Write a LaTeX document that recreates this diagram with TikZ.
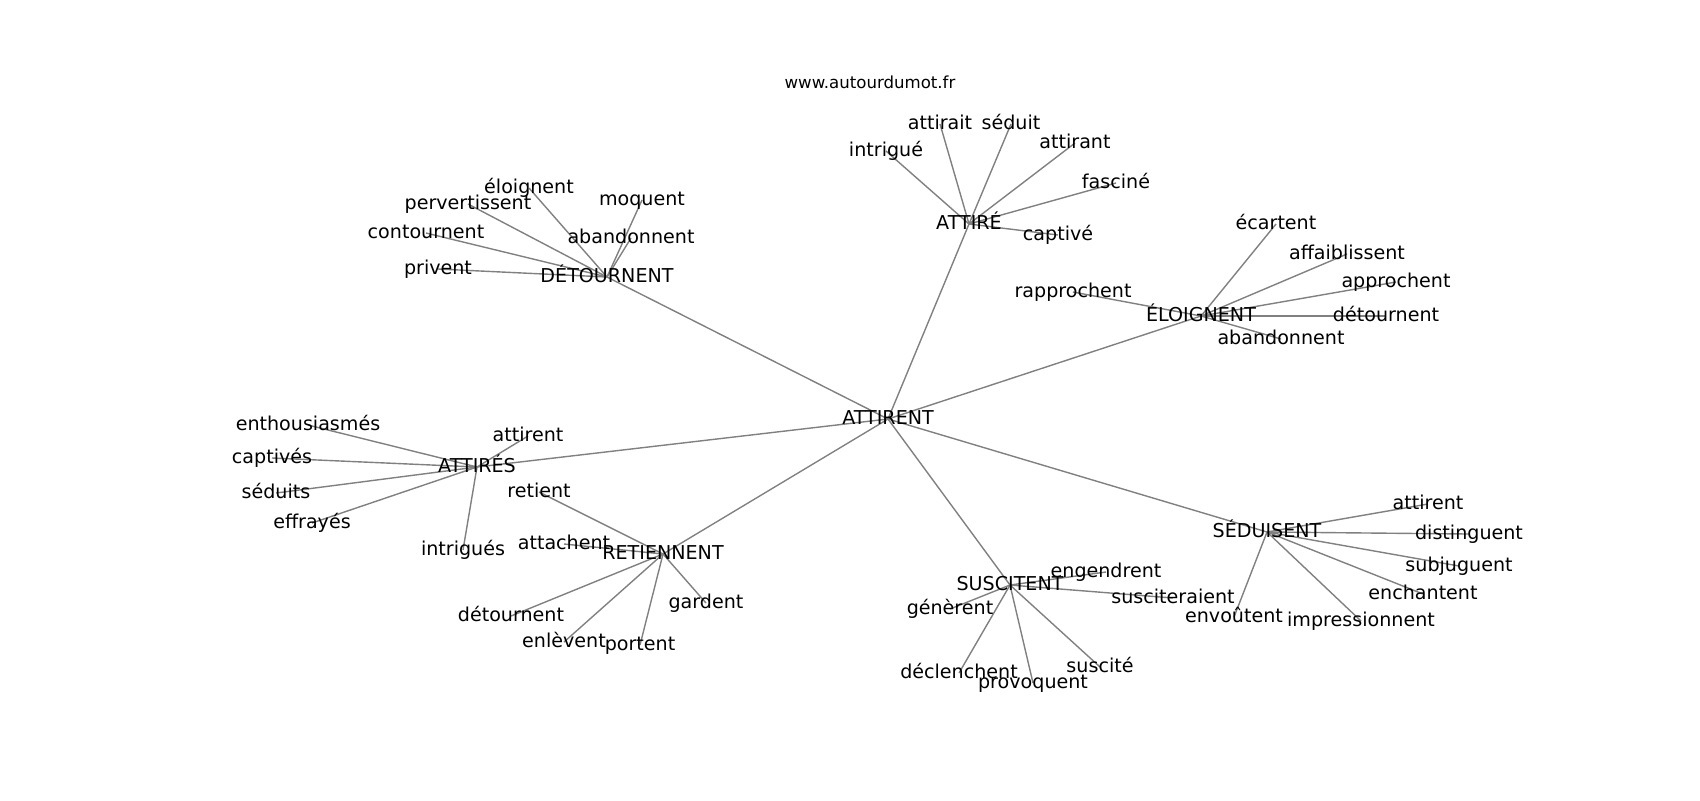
\documentclass[tikz,border=0pt]{standalone}
\usepackage{fontspec}
\setmainfont{DejaVu Sans}
\usetikzlibrary{backgrounds}
\begin{document}
\begin{tikzpicture}[x=0.5pt,y=-0.5pt,
  w/.style={inner sep=0pt, text height=0.76em, text depth=0.21em, anchor=center, font=\fontsize{9.55}{11}\selectfont},
  ttl/.style={inner sep=0pt, anchor=center, font=\fontsize{8.3}{10}\selectfont},
  ln/.style={draw=gray, line width=0.7pt}]
\useasboundingbox (0,0) rectangle (1700,800);
\node[ttl] (title) at (870,82) {www.autourdumot.fr};
% hubs
\node[w] (c) at (888,419) {ATTIRENT};
\node[w] (a) at (969,224) {ATTIRÉ};
\node[w] (d) at (607,277) {DÉTOURNENT};
\node[w] (e) at (1201,316) {ÉLOIGNENT};
\node[w] (s) at (1267,532) {SÉDUISENT};
\node[w] (u) at (1010,585) {SUSCITENT};
\node[w] (r) at (663,554) {RETIENNENT};
\node[w] (t) at (477,467) {ATTIRÉS};
% DÉTOURNENT leaves
\node[w] (d1) at (529,188) {éloignent};
\node[w] (d2) at (468,204) {pervertissent};
\node[w] (d3) at (642,200) {moquent};
\node[w] (d4) at (426,233) {contournent};
\node[w] (d5) at (631,238) {abandonnent};
\node[w] (d6) at (438,269) {privent};
% ATTIRÉ leaves
\node[w] (a1) at (886,151) {intrigué};
\node[w] (a2) at (940,124) {attirait};
\node[w] (a3) at (1011,124) {séduit};
\node[w] (a4) at (1075,143) {attirant};
\node[w] (a5) at (1116,183) {fasciné};
\node[w] (a6) at (1058,235) {captivé};
% ÉLOIGNENT leaves
\node[w] (e1) at (1276,224) {écartent};
\node[w] (e2) at (1347,254) {affaiblissent};
\node[w] (e3) at (1396,282) {approchent};
\node[w] (e4) at (1386,316) {détournent};
\node[w] (e5) at (1281,339) {abandonnent};
\node[w] (e6) at (1073,292) {rapprochent};
% SÉDUISENT leaves
\node[w] (s1) at (1428,504) {attirent};
\node[w] (s2) at (1469,534) {distinguent};
\node[w] (s3) at (1459,566) {subjuguent};
\node[w] (s4) at (1423,594) {enchantent};
\node[w] (s5) at (1361,621) {impressionnent};
\node[w] (s6) at (1234,617) {envoûtent};
% SUSCITENT leaves
\node[w] (u1) at (1106,572) {engendrent};
\node[w] (u2) at (1173,598) {susciteraient};
\node[w] (u3) at (950,609) {génèrent};
\node[w] (u4) at (959,673) {déclenchent};
\node[w] (u5) at (1033,683) {provoquent};
\node[w] (u6) at (1100,667) {suscité};
% RETIENNENT leaves
\node[w] (r1) at (539,492) {retient};
\node[w] (r2) at (564,544) {attachent};
\node[w] (r3) at (511,616) {détournent};
\node[w] (r4) at (564,642) {enlèvent};
\node[w] (r5) at (640,645) {portent};
\node[w] (r6) at (706,603) {gardent};
% ATTIRÉS leaves
\node[w] (t1) at (528,436) {attirent};
\node[w] (t2) at (308,425) {enthousiasmés};
\node[w] (t3) at (272,458) {captivés};
\node[w] (t4) at (276,493) {séduits};
\node[w] (t5) at (312,523) {effrayés};
\node[w] (t6) at (463,550) {intrigués};
\begin{pgfonlayer}{background}
\foreach \h in {a,d,e,s,u,r,t} \draw[ln] (c.center) -- (\h.center);
\foreach \h in {a,d,e,s,u,r,t}
  \foreach \i in {1,...,6} \draw[ln] (\h.center) -- (\h\i.center);
\end{pgfonlayer}
\end{tikzpicture}
\end{document}
